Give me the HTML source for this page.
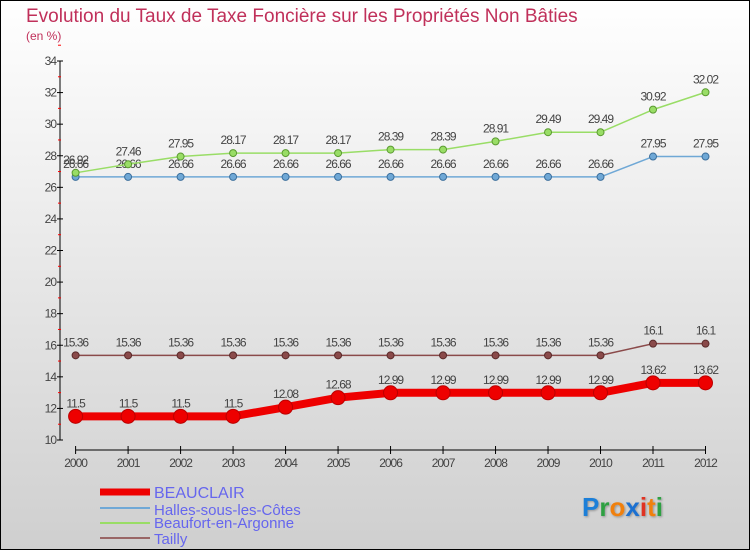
<!DOCTYPE html>
<html><head><meta charset="utf-8"><style>
body{margin:0}
#c{width:750px;height:550px;position:relative;overflow:hidden}
svg text{font-family:"Liberation Sans",sans-serif}
</style></head><body>
<div id="c">
<svg id="s" width="750" height="550" xmlns="http://www.w3.org/2000/svg">
<defs><linearGradient id="bg" x1="0" y1="0" x2="0" y2="1"><stop offset="0" stop-color="#ffffff"/><stop offset="1" stop-color="#cfcfcf"/></linearGradient>
<filter id="sh"><feDropShadow dx="1" dy="1" stdDeviation="1" flood-color="#000" flood-opacity="0.3"/></filter></defs>
<rect x="0.5" y="0.5" width="749" height="549" fill="url(#bg)" stroke="#000"/>
<text x="26" y="22" font-size="19" fill="#c0305a">Evolution du Taux de Taxe Foncière sur les Propriétés Non Bâties</text>
<text x="26" y="40" font-size="12" fill="#c0305a">(en %)</text>
<g id="axes"></g><g id="series"></g>
<g>
<line x1="100" y1="492" x2="150" y2="492" stroke="#ee0000" stroke-width="7"/>
<text x="154" y="498" font-size="16" fill="#6666ee">BEAUCLAIR</text>
<line x1="100" y1="508" x2="150" y2="508" stroke="#6fa8d6" stroke-width="2"/>
<text x="154" y="515" font-size="15" fill="#6666ee">Halles-sous-les-Côtes</text>
<line x1="100" y1="523" x2="150" y2="523" stroke="#99dd66" stroke-width="2"/>
<text x="154" y="528" font-size="15" fill="#6666ee">Beaufort-en-Argonne</text>
<line x1="100" y1="538" x2="150" y2="538" stroke="#996666" stroke-width="2"/>
<text x="154" y="544" font-size="15" fill="#6666ee">Tailly</text>
</g>
<g filter="url(#sh)" font-size="26" font-weight="bold">
<text x="582" y="516"><tspan fill="#1a7fd8">P</tspan><tspan fill="#2ea043">r</tspan><tspan fill="#f08010">o</tspan><tspan fill="#1a6fd0">x</tspan><tspan fill="#e03020">i</tspan><tspan fill="#f08010">t</tspan><tspan fill="#2ea043">i</tspan></text>
</g>
</svg></div>
<script>
const years=[2000,2001,2002,2003,2004,2005,2006,2007,2008,2009,2010,2011,2012];
const beauclair=[11.5,11.5,11.5,11.5,12.08,12.68,12.99,12.99,12.99,12.99,12.99,13.62,13.62];
const halles=[26.66,26.66,26.66,26.66,26.66,26.66,26.66,26.66,26.66,26.66,26.66,27.95,27.95];
const beaufort=[26.92,27.46,27.95,28.17,28.17,28.17,28.39,28.39,28.91,29.49,29.49,30.92,32.02];
const tailly=[15.36,15.36,15.36,15.36,15.36,15.36,15.36,15.36,15.36,15.36,15.36,16.1,16.1];
const yTicks=[10,12,14,16,18,20,22,24,26,28,30,32,34];
const NS="http://www.w3.org/2000/svg";
const X=i=>75.6+i*(705.5-75.6)/(years.length-1);
const Y=v=>440-(v-10)*(440-61)/24;
function mk(t,a,p){const e=document.createElementNS(NS,t);for(const k in a)e.setAttribute(k,a[k]);p.appendChild(e);return e;}
const ax=document.getElementById('axes');
const ya=mk('line',{x1:60,y1:61,x2:60,y2:440,stroke:'#000'},ax);


yTicks.forEach(v=>{
 mk('line',{x1:57,x2:63,y1:Y(v),y2:Y(v),stroke:'#000'},ax);
 mk('line',{x1:58,x2:61,y1:Y(v+1),y2:Y(v+1),stroke:'#f00'},ax);
 const t=mk('text',{x:56,y:Y(v)+4,'font-size':12,fill:'#444','text-anchor':'end','letter-spacing':'-1'},ax);t.textContent=v;
 
 
});
const xa=mk('line',{x1:75.6,y1:450,x2:705.5,y2:450,stroke:'#000'},ax);


years.forEach((y,i)=>{
 mk('line',{x1:X(i),x2:X(i),y1:446,y2:454,stroke:'#000'},ax);
 const t=mk('text',{x:X(i),y:467,'font-size':12,fill:'#444','text-anchor':'middle','letter-spacing':'-1'},ax);t.textContent=y;
 
 
});
const sg=document.getElementById('series');
function draw(name,data,col,w,r,dark){
 const g=mk('g',{},sg);
 
 
 const pl=mk('polyline',{points:data.map((v,i)=>X(i)+','+Y(v)).join(' '),fill:'none',stroke:col,'stroke-width':w,'stroke-linejoin':'round'},g);
 
 
 data.forEach((v,i)=>{
  const c=mk('circle',{cx:X(i),cy:Y(v),r:r,fill:col,stroke:dark,'stroke-width':1},g);
  
  
  const t=mk('text',{x:X(i),y:Y(v)-9,'font-size':12,fill:'#444','text-anchor':'middle','letter-spacing':'-1'},g);t.textContent=v;
  
  
 });
}
draw('halles',halles,'#6fa8d6',1.5,3.5,'#3c6f9c');
draw('beaufort',beaufort,'#99dd66',1.5,3.5,'#5a9a30');
draw('tailly',tailly,'#8a4a4a',1.5,3.5,'#5a2a2a');
draw('beauclair',beauclair,'#ee0000',8,7,'#bb0000');
</script>
</body></html>
